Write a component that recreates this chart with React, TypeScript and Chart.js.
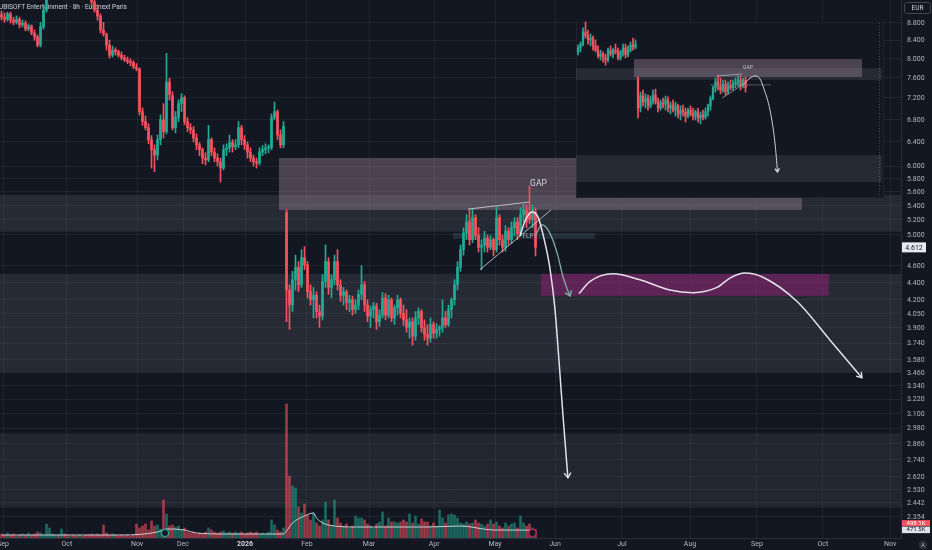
import React, { useEffect, useRef } from "react";
import { Chart, registerables } from "chart.js";

Chart.register(...registerables);

// ---------------- data ----------------
const chartTitle = "UBISOFT Entertainment · 8h · Euronext Paris";
const lastPriceText = "4.612";
const lastVolumeText = "498.1K";
const volumeMaText = "471.5K";
const volumeMaValue = 471.5;

// candles [open, high, low, close] in EUR, one per 8h slot
const sepOctCandles = [
  [8.99, 9.08, 8.86, 8.93], [8.93, 9.03, 8.81, 8.88], [8.88, 9.05, 8.84, 9.01], [9.01, 9.05, 8.79, 8.86],
  [8.86, 8.93, 8.75, 8.81], [8.81, 8.96, 8.77, 8.88], [8.88, 8.93, 8.68, 8.75], [8.75, 8.86, 8.7, 8.79],
  [8.79, 8.84, 8.61, 8.65], [8.65, 8.77, 8.61, 8.72], [8.72, 8.75, 8.52, 8.56], [8.56, 8.63, 8.4, 8.47],
  [8.47, 8.52, 8.25, 8.29], [8.29, 8.81, 8.25, 8.7], [8.7, 9.23, 8.65, 9.1], [9.1, 9.73, 9.05, 9.6],
];
const octNovCandles = [
  [9.6, 9.95, 9.55, 9.85], [9.85, 10.2, 9.8, 10.1], [10.1, 10.35, 10.0, 10.25], [10.25, 10.4, 10.05, 10.15],
  [10.15, 10.5, 10.1, 10.4], [10.4, 10.45, 10.2, 10.3], [10.3, 10.35, 10.0, 10.05], [10.05, 10.25, 9.95, 10.2],
  [10.2, 10.3, 9.95, 10.0], [10.0, 10.1, 9.8, 9.9], [9.9, 10.15, 9.85, 10.05], [10.05, 10.1, 9.8, 9.85],
  [9.85, 9.95, 9.65, 9.7], [9.7, 9.8, 9.55, 9.6],
];
const novJanCandles = [
  [9.6, 9.73, 9.23, 9.3], [9.3, 9.35, 9.05, 9.1], [9.1, 9.23, 8.86, 8.96], [8.96, 9.01, 8.56, 8.63],
  [8.63, 8.81, 8.49, 8.54], [8.54, 8.56, 8.18, 8.29], [8.29, 8.4, 8.01, 8.07], [8.07, 8.27, 8.03, 8.18],
  [8.18, 8.23, 8.07, 8.14], [8.14, 8.18, 8.03, 8.07], [8.07, 8.14, 7.97, 8.01], [8.01, 8.07, 7.93, 7.97],
  [7.97, 8.03, 7.89, 7.93], [7.93, 7.99, 7.84, 7.91], [7.91, 7.95, 7.78, 7.82], [7.82, 7.89, 7.74, 7.78],
  [7.78, 7.8, 6.88, 6.94], [6.94, 7.01, 6.69, 6.76], [6.76, 6.86, 6.61, 6.65], [6.65, 6.72, 6.37, 6.44],
  [6.44, 6.51, 5.97, 6.27], [6.27, 6.35, 5.91, 6.18], [6.18, 6.52, 6.1, 6.44], [6.44, 6.88, 6.35, 6.79],
  [6.79, 7.09, 6.47, 6.58], [6.58, 8.11, 6.54, 7.51], [7.51, 7.59, 7.16, 7.26], [7.24, 7.32, 6.61, 6.65],
  [6.65, 6.94, 6.56, 6.83], [6.83, 7.16, 6.76, 7.09], [7.09, 7.28, 6.94, 7.2], [7.2, 7.24, 6.7, 6.76],
  [6.76, 6.83, 6.58, 6.65], [6.65, 6.72, 6.54, 6.61], [6.61, 6.67, 6.4, 6.47], [6.47, 6.54, 6.27, 6.35],
  [6.35, 6.39, 6.17, 6.27], [6.27, 6.3, 6.04, 6.13], [6.13, 6.22, 6.02, 6.1], [6.1, 6.69, 6.07, 6.44],
  [6.44, 6.47, 6.17, 6.23], [6.23, 6.3, 6.07, 6.13], [6.13, 6.2, 6.0, 6.07], [6.07, 6.13, 5.75, 5.97],
  [5.97, 6.35, 5.94, 6.27], [6.27, 6.37, 6.17, 6.3], [6.3, 6.52, 6.23, 6.39], [6.39, 6.44, 6.23, 6.32],
  [6.32, 6.44, 6.27, 6.35], [6.35, 6.76, 6.3, 6.65], [6.65, 6.69, 6.35, 6.44], [6.44, 6.51, 6.27, 6.35],
  [6.35, 6.4, 6.13, 6.23], [6.23, 6.3, 6.07, 6.13], [6.13, 6.18, 6.0, 6.07], [6.07, 6.13, 5.97, 6.05],
  [6.05, 6.3, 6.02, 6.23], [6.23, 6.34, 6.17, 6.27], [6.27, 6.37, 6.2, 6.3], [6.3, 6.35, 6.22, 6.3],
  [6.3, 6.9, 6.27, 6.83], [6.83, 7.12, 6.79, 6.94], [6.94, 6.97, 6.44, 6.52], [6.52, 6.61, 6.3, 6.35],
  [6.35, 6.76, 6.3, 6.67],
];
const febAprCandles = [
  [5.3, 5.34, 3.96, 4.31], [4.31, 4.37, 3.88, 4.14], [4.14, 4.53, 4.07, 4.43], [4.43, 4.73, 4.31, 4.58],
  [4.58, 4.65, 4.29, 4.37], [4.37, 4.8, 4.34, 4.7], [4.7, 4.84, 4.55, 4.61], [4.61, 4.65, 4.22, 4.29],
  [4.29, 4.37, 4.14, 4.2], [4.2, 4.34, 4.0, 4.25], [4.25, 4.29, 4.0, 4.07], [4.07, 4.14, 3.9, 4.02],
  [4.02, 4.49, 3.98, 4.41], [4.41, 4.86, 4.34, 4.65], [4.65, 4.7, 4.26, 4.34], [4.34, 4.49, 4.22, 4.43],
  [4.43, 4.73, 4.37, 4.65], [4.65, 4.8, 4.31, 4.37], [4.37, 4.43, 4.18, 4.25], [4.25, 4.34, 4.14, 4.29],
  [4.29, 4.31, 4.09, 4.17], [4.17, 4.25, 4.07, 4.2], [4.2, 4.24, 4.03, 4.09], [4.09, 4.2, 4.05, 4.14],
  [4.14, 4.31, 4.09, 4.26], [4.26, 4.6, 4.2, 4.37], [4.37, 4.41, 4.07, 4.14], [4.14, 4.2, 3.96, 4.02],
  [4.02, 4.13, 3.9, 4.09], [4.09, 4.17, 4.0, 4.13], [4.13, 4.16, 3.88, 3.96], [3.96, 4.09, 3.91, 4.03],
  [4.03, 4.28, 4.0, 4.22], [4.22, 4.27, 3.98, 4.03], [4.03, 4.25, 4.0, 4.2], [4.2, 4.22, 3.96, 4.0],
  [4.0, 4.14, 3.93, 4.11], [4.11, 4.25, 4.03, 4.2], [4.2, 4.22, 4.0, 4.05], [4.05, 4.14, 3.92, 3.98],
  [3.98, 4.09, 3.85, 3.9], [3.9, 4.0, 3.79, 3.96], [3.96, 4.0, 3.72, 3.81], [3.81, 4.07, 3.77, 4.0],
  [4.0, 4.11, 3.93, 4.07], [4.07, 4.09, 3.85, 3.9], [3.9, 3.98, 3.77, 3.83], [3.83, 3.93, 3.72, 3.79],
  [3.79, 4.0, 3.75, 3.93], [3.93, 3.96, 3.79, 3.84], [3.84, 3.94, 3.79, 3.88], [3.88, 3.92, 3.81, 3.9],
  [3.9, 4.2, 3.85, 4.0], [4.0, 4.07, 3.9, 3.93], [3.93, 4.14, 3.91, 4.09], [4.09, 4.22, 4.0, 4.2],
  [4.2, 4.43, 4.14, 4.37],
];
const aprMayCandles = [
  [4.37, 4.65, 4.31, 4.58], [4.58, 4.86, 4.53, 4.8], [4.8, 5.09, 4.73, 5.02], [5.02, 5.27, 4.93, 5.17],
  [5.17, 5.34, 4.86, 4.93], [4.93, 5.36, 4.89, 5.23], [5.23, 5.27, 4.93, 4.99], [4.99, 5.09, 4.77, 4.83],
  [4.83, 4.93, 4.55, 4.86], [4.86, 5.04, 4.77, 4.95], [4.95, 4.99, 4.77, 4.83], [4.83, 4.98, 4.8, 4.93],
  [4.93, 4.95, 4.72, 4.8], [4.8, 5.38, 4.77, 5.23], [5.23, 5.27, 4.86, 4.93], [4.93, 4.99, 4.77, 4.83],
  [4.83, 5.12, 4.78, 5.04], [5.04, 5.09, 4.86, 4.93], [4.93, 5.17, 4.88, 5.09], [5.09, 5.23, 4.98, 5.17],
  [5.17, 5.23, 4.93, 5.01], [5.01, 5.37, 4.98, 5.27], [5.27, 5.42, 5.17, 5.34], [5.34, 5.41, 5.09, 5.17],
  [5.31, 5.69, 5.15, 5.2], [5.2, 5.41, 5.09, 5.34], [5.31, 5.37, 4.72, 4.83],
];

// volume in thousands of shares, one per slot
const volSepNov = [
  240, 180, 300, 180, 240, 120, 180, 240, 180, 300, 180, 240, 360, 300, 180,
  840, 600, 240, 180, 180, 540, 240, 180, 120, 180, 120, 180, 120, 180, 180,
  240, 180, 240, 180, 780, 300, 180, 240, 180, 120, 180, 120, 180, 120, 180,
];
const volNovJan = [
  840, 600, 720, 840, 480, 1020, 720, 780, 540, 2280, 1440, 720, 780, 660, 720,
  480, 600, 360, 300, 360, 240, 300, 240, 360, 600, 480, 360, 300, 360, 420,
  300, 360, 300, 360, 300, 360, 240, 300, 360, 300, 360, 240, 300, 240, 360,
  1080, 780, 480, 360, 600,
];
const volFebApr = [
  8040,
  3720, 3120, 3000, 1860, 1500, 2040, 1380, 1080, 1500, 900, 720, 1080, 2160, 1080, 720,
  2280, 1200, 900, 720, 840, 600, 720, 1320, 1200, 1200, 1080, 840, 720, 600, 840,
  960, 1560, 720, 1200, 960, 960, 900, 960, 1080, 960, 1440, 900, 1320, 840, 1140,
  960, 960, 720, 900, 720, 1680, 1200, 900, 1380, 1440, 1380,
];
const volAprMay = [
  1200, 900, 840, 960, 840, 900, 1080, 900, 840, 720, 840, 1080, 840, 960, 720,
  600, 900, 720, 840, 900, 600, 1320, 900, 720, 840, 600, 498,
];
// volume moving average [slot, thousands]
const volumeMA = [
  [0, 180], [40, 180], [52, 360], [55, 540], [61, 480], [65, 300], [75, 240], [94, 240], [95, 420],
  [97, 900], [101, 1320], [104, 1500], [105, 1200], [106, 1020], [109, 780], [118, 660], [142, 660],
  [153, 720], [164, 480], [178, 471.5],
];
const earningsMarks = [[54.5, 300], [177, 300]];

// axis ticks
const yTicks = [8.8, 8.4, 8.0, 7.6, 7.2, 6.8, 6.4, 6.0, 5.8, 5.6, 5.4, 5.2, 5.0, 4.6, 4.4, 4.2, 4.05, 3.9,
  3.74, 3.58, 3.46, 3.34, 3.22, 3.1, 2.98, 2.86, 2.74, 2.62, 2.53, 2.442, 2.354];
const monthTicks = [0.5, 21.8, 45.2, 60.5, 81.2, 101.8, 122.5, 144.2, 164.5, 184.5, 206.8, 229.5, 251.8, 273.8, 296.2];
const monthLabels = ["Sep", "Oct", "Nov", "Dec", "2026", "Feb", "Mar", "Apr", "May", "Jun", "Jul", "Aug", "Sep", "Oct", "Nov"];

// zones [lowPrice, highPrice, fromSlot?, toSlot?]
const upperBandZone = [5.035, 5.556];
const rangeBandZone = [3.46, 4.5];
const lowerBandZone = [2.41, 2.94];
const gapZone = [5.338, 6.133, 92.5, 266.8];
const targetZone = [4.244, 4.5, 179.8, 275.8];
const flpZone = [4.94, 5.02, 150.5, 197.8];

// drawings [slot, price]
const triangleTop = [[155.5, 5.35], [175.8, 5.45]];
const triangleBottom = [[159.5, 4.55], [183.2, 5.34]];
const arrowDrop = [[172.8, 4.98], [174.8, 5.21], [176.8, 5.31], [178.8, 5.24], [180.8, 4.95], [182.8, 4.57],
  [184.5, 4.09], [185.8, 3.58], [187.2, 3.07], [188.8, 2.61]];
const arrowGap = [[177.8, 4.97], [180.2, 5.13], [182.2, 5.06], [185.2, 4.76], [187.2, 4.46], [189.5, 4.24]];
const arrowRange = [[192.5, 4.27], [196.2, 4.41], [203.8, 4.5], [212.8, 4.43], [222.8, 4.31], [230.5, 4.28],
  [238.5, 4.34], [242.8, 4.45], [247.8, 4.51], [253.8, 4.46], [265.2, 4.18], [276.2, 3.77], [286.8, 3.41]];
const gapLabelAt = [176.2, 5.72];
const flpLabelAt = [175.5, 4.97];

// inset (zoomed-out copy), candles [open, high, low, close] in inset units
const insetPreGap = [
  [6.17, 6.4, 6.07, 6.3], [6.3, 6.5, 6.17, 6.43], [6.43, 6.97, 6.37, 6.83], [6.83, 7.17, 6.63, 6.7],
  [6.7, 6.9, 6.43, 6.57], [6.57, 6.77, 6.37, 6.63], [6.63, 6.7, 6.23, 6.37], [6.37, 6.57, 6.17, 6.23],
  [6.23, 6.37, 5.97, 6.03], [6.03, 6.23, 5.9, 6.1], [6.1, 6.17, 5.83, 5.97], [5.97, 6.1, 5.73, 5.9],
  [5.9, 6.3, 5.83, 6.23], [6.23, 6.37, 6.03, 6.1], [6.1, 6.3, 5.97, 6.23], [6.23, 6.43, 6.1, 6.17],
  [6.17, 6.3, 5.9, 5.97], [5.97, 6.23, 5.9, 6.17], [6.17, 6.43, 6.03, 6.3], [6.3, 6.43, 5.97, 6.07],
  [6.07, 6.37, 6.0, 6.23], [6.23, 6.5, 6.17, 6.4], [6.4, 6.63, 6.23, 6.33], [6.33, 6.57, 6.27, 6.43],
];
const insetPostGap = [
  [5.3, 5.33, 3.97, 4.3], [4.3, 4.83, 4.17, 4.7], [4.7, 4.9, 4.37, 4.5], [4.5, 4.77, 4.3, 4.63],
  [4.63, 4.73, 4.23, 4.37], [4.37, 4.7, 4.3, 4.57], [4.57, 4.9, 4.43, 4.73], [4.73, 4.93, 4.43, 4.5],
  [4.5, 4.63, 4.17, 4.3], [4.3, 4.57, 4.23, 4.47], [4.47, 4.63, 4.3, 4.43], [4.43, 4.7, 4.23, 4.57],
  [4.57, 4.67, 4.17, 4.3], [4.3, 4.5, 4.1, 4.4], [4.4, 4.57, 4.17, 4.23], [4.23, 4.5, 4.03, 4.37],
  [4.37, 4.43, 3.97, 4.1], [4.1, 4.37, 3.9, 4.23], [4.23, 4.4, 4.03, 4.17], [4.17, 4.3, 3.83, 4.03],
  [4.03, 4.3, 3.97, 4.23], [4.23, 4.37, 4.03, 4.1], [4.1, 4.3, 3.9, 4.03], [4.03, 4.23, 3.9, 4.17],
  [4.17, 4.3, 3.83, 3.97], [3.97, 4.17, 3.77, 4.07], [4.07, 4.23, 3.9, 4.0], [4.0, 4.3, 3.93, 4.17],
  [4.17, 4.43, 4.03, 4.37], [4.37, 4.7, 4.23, 4.63], [4.63, 5.03, 4.57, 4.97], [4.97, 5.3, 4.83, 5.17],
  [5.17, 5.37, 4.9, 5.03], [5.03, 5.3, 4.77, 4.9], [4.9, 5.23, 4.83, 5.1], [5.1, 5.23, 4.73, 4.83],
  [4.83, 5.17, 4.77, 5.03], [5.03, 5.23, 4.9, 4.97], [4.97, 5.23, 4.9, 5.1], [5.1, 5.3, 4.97, 5.17],
  [5.17, 5.37, 5.03, 5.23], [5.23, 5.37, 4.9, 5.03], [5.03, 5.3, 4.97, 5.23], [5.23, 5.33, 4.83, 4.97],
];
// inset zones [low, high, fromSlot, toSlot]
const insetFrame = [1.3, 7.17, -0.8, 122.4];
const insetBandZone = [5.23, 5.63, -0.8, 121.6];
const insetLowBandZone = [1.83, 2.73, -0.8, 121.6];
const insetGapZone = [5.33, 5.93, 22.4, 113.6];
const insetTriangleTop = [[55.6, 5.37], [65.6, 5.43]];
const insetTriangleBottom = [[57.6, 4.63], [66.8, 5.13]];
const insetFlp = [[52.8, 5.07], [77.2, 5.07]];
const insetArrow = [[66.8, 5.13], [68.8, 5.3], [70.8, 5.37], [72.8, 5.27], [74.4, 4.93], [76.8, 4.23], [78.8, 3.13], [79.8, 2.17]];
const insetGapLabelAt = [68, 5.63];
const insetMarkerSlot = 120.4;

// ---------------- styles ----------------
const FONT = "Roboto, 'Liberation Sans', Arial, sans-serif";
const BG = "#131722";
const UP = "#22ab94";
const DOWN = "#f7525f";
const UP_VOL = "rgba(34,171,148,0.55)";
const DOWN_VOL = "rgba(247,82,95,0.6)";
const GRID = "rgba(60,64,76,0.32)";
const AXIS_TEXT = "#b2b5be";
const BAND = "rgba(134,137,148,0.17)";
const BAND_LOW = "rgba(134,137,148,0.13)";
const MAUVE = "rgba(160,135,155,0.40)";
const PURPLE = "rgba(150,30,120,0.5)";
const FLP = "rgba(70,100,110,0.3)";
const WHITE = "rgba(236,236,242,0.95)";
const TEAL = "#7fae9f";

export default function App() {
  const ref = useRef<HTMLCanvasElement>(null);

  useEffect(() => {
    document.body.style.margin = "0";
    document.body.style.background = BG;
    const canvas = ref.current;
    if (!canvas) return;

    const candles = [...sepOctCandles, ...octNovCandles, ...novJanCandles, ...febAprCandles, ...aprMayCandles];
    const volumes = [...volSepNov, ...volNovJan, ...volFebApr, ...volAprMay];
    const inset = [...insetPreGap, ...insetPostGap];
    const isUp = (c: number[]) => c[3] >= c[0];
    const pts = (arr: number[][]) => arr.map((p) => ({ x: p[0], y: p[1] }));

    const line = (label: string, arr: number[][], color: string, width: number, order: number, xId = "x", yId = "y") => ({
      type: "line",
      label,
      data: pts(arr),
      borderColor: color,
      borderWidth: width,
      pointRadius: 0,
      cubicInterpolationMode: "monotone",
      fill: false,
      xAxisID: xId,
      yAxisID: yId,
      order,
    });

    const datasets: any[] = [
      {
        type: "bar", label: "volume",
        data: volumes.map((v, i) => ({ x: i, y: v })),
        backgroundColor: candles.map((c) => (isUp(c) ? UP_VOL : DOWN_VOL)),
        barThickness: 2, grouped: false, xAxisID: "x", yAxisID: "yv", order: 30,
      },
      { ...line("volumeMA", volumeMA, "rgba(215,217,225,0.9)", 1, 29, "x", "yv") },
      {
        type: "line", label: "earnings", data: pts(earningsMarks), showLine: false,
        pointRadius: 3.5, pointBackgroundColor: BG, pointBorderColor: [UP, "#c2185b"], pointBorderWidth: 1.2,
        xAxisID: "x", yAxisID: "yv", order: 28.5,
      },
      {
        type: "bar", label: "wicks",
        data: candles.map((c, i) => ({ x: i, y: [c[2], c[1]] })),
        backgroundColor: candles.map((c) => (isUp(c) ? UP : DOWN)),
        barThickness: 1, grouped: false, xAxisID: "x", yAxisID: "y", order: 28,
      },
      {
        type: "bar", label: "bodies",
        data: candles.map((c, i) => ({ x: i, y: [c[0], c[3]] })),
        backgroundColor: candles.map((c) => (isUp(c) ? UP : DOWN)),
        barThickness: 2, minBarLength: 1, grouped: false, xAxisID: "x", yAxisID: "y", order: 27,
      },
      line("triangleTop", triangleTop, "rgba(210,212,222,0.8)", 1, 26),
      line("triangleBottom", triangleBottom, "rgba(210,212,222,0.8)", 1, 25),
      line("arrowRange", arrowRange, WHITE, 1.5, 24),
      line("arrowGap", arrowGap, TEAL, 1.3, 23),
      line("arrowDrop", arrowDrop, WHITE, 1.5, 22),
      {
        type: "bar", label: "insetWicks",
        data: inset.map((c, i) => ({ x: i, y: [c[2], c[1]] })),
        backgroundColor: inset.map((c) => (isUp(c) ? UP : DOWN)),
        barThickness: 1, grouped: false, xAxisID: "xi", yAxisID: "yi", order: 6,
      },
      {
        type: "bar", label: "insetBodies",
        data: inset.map((c, i) => ({ x: i, y: [c[0], c[3]] })),
        backgroundColor: inset.map((c) => (isUp(c) ? UP : DOWN)),
        barThickness: 1.6, minBarLength: 1, grouped: false, xAxisID: "xi", yAxisID: "yi", order: 5,
      },
      line("insetFlp", insetFlp, "rgba(110,120,132,0.7)", 1, 4, "xi", "yi"),
      line("insetTriangleTop", insetTriangleTop, "rgba(200,202,212,0.75)", 0.8, 3, "xi", "yi"),
      line("insetTriangleBottom", insetTriangleBottom, "rgba(200,202,212,0.75)", 0.8, 3, "xi", "yi"),
      line("insetArrow", insetArrow, "rgba(225,225,232,0.9)", 1, 2, "xi", "yi"),
    ];

    const arrowHeads: [string, string, number][] = [
      ["arrowDrop", WHITE, 6], ["arrowGap", TEAL, 6], ["arrowRange", WHITE, 6], ["insetArrow", "rgba(225,225,232,0.9)", 4],
    ];

    const drawPlugin = {
      id: "tvDraw",
      beforeDraw(chart: any) {
        const { ctx, width, height } = chart;
        ctx.save();
        ctx.fillStyle = BG;
        ctx.fillRect(0, 0, width, height);
        ctx.restore();
      },
      beforeDatasetsDraw(chart: any) {
        const { ctx, chartArea: a, scales } = chart;
        const x = scales.x, y = scales.y;
        ctx.save();
        ctx.beginPath();
        ctx.rect(a.left, a.top, a.right - a.left, a.bottom - a.top);
        ctx.clip();
        const zone = (z: number[], color: string) => {
          const top = y.getPixelForValue(z[1]);
          const bot = y.getPixelForValue(z[0]);
          const l = z.length > 2 ? x.getPixelForValue(z[2]) : a.left;
          const r = z.length > 3 ? x.getPixelForValue(z[3]) : a.right;
          ctx.fillStyle = color;
          ctx.fillRect(l, top, r - l, bot - top);
        };
        zone(upperBandZone, BAND);
        zone(rangeBandZone, BAND);
        zone(lowerBandZone, BAND_LOW);
        zone(gapZone, MAUVE);
        zone(targetZone, PURPLE);
        zone(flpZone, FLP);
        // title
        ctx.font = `10px ${FONT}`;
        const w = ctx.measureText(chartTitle).width;
        const size = (10 * 128) / w;
        ctx.font = `${size.toFixed(2)}px ${FONT}`;
        ctx.fillStyle = "#d1d4dc";
        ctx.textAlign = "left";
        ctx.textBaseline = "middle";
        ctx.fillText(chartTitle, -1, 7);
        ctx.restore();
      },
      beforeDatasetDraw(chart: any, args: any) {
        const ds = chart.data.datasets[args.index];
        if (!ds || ds.label !== "insetWicks") return;
        const { ctx, chartArea: a, scales } = chart;
        const xi = scales.xi, yi = scales.yi;
        ctx.save();
        ctx.beginPath();
        ctx.rect(a.left, a.top, a.right - a.left, a.bottom - a.top);
        ctx.clip();
        const rect = (z: number[], color: string) => {
          const l = xi.getPixelForValue(z[2]);
          const r = xi.getPixelForValue(z[3]);
          const t = yi.getPixelForValue(z[1]);
          const b = yi.getPixelForValue(z[0]);
          ctx.fillStyle = color;
          ctx.fillRect(l, t, r - l, b - t);
          return [l, t, r, b];
        };
        const f = rect(insetFrame, BG);
        ctx.strokeStyle = "rgba(120,123,134,0.12)";
        ctx.lineWidth = 1;
        ctx.strokeRect(f[0] + 0.5, f[1] + 0.5, f[2] - f[0] - 1, f[3] - f[1] - 1);
        rect(insetBandZone, BAND);
        rect(insetLowBandZone, BAND);
        rect(insetGapZone, MAUVE);
        // dotted marker line
        const mx = Math.round(xi.getPixelForValue(insetMarkerSlot)) + 0.5;
        ctx.strokeStyle = "rgba(150,152,160,0.45)";
        ctx.setLineDash([1, 2]);
        ctx.beginPath();
        ctx.moveTo(mx, f[1] + 1);
        ctx.lineTo(mx, f[3] - 1);
        ctx.stroke();
        ctx.setLineDash([]);
        ctx.restore();
      },
      afterDatasetsDraw(chart: any) {
        const { ctx, chartArea: a, scales } = chart;
        ctx.save();
        ctx.beginPath();
        ctx.rect(a.left, a.top, a.right - a.left, a.bottom - a.top);
        ctx.clip();
        // arrow heads
        chart.data.datasets.forEach((ds: any, i: number) => {
          const h = arrowHeads.find((e) => e[0] === ds.label);
          if (!h) return;
          const els = chart.getDatasetMeta(i).data;
          const p1 = els[els.length - 2], p2 = els[els.length - 1];
          const ang = Math.atan2(p2.y - p1.y, p2.x - p1.x);
          const len = h[2];
          ctx.strokeStyle = h[1];
          ctx.lineWidth = 1.4;
          ctx.beginPath();
          ctx.moveTo(p2.x - len * Math.cos(ang - 0.6), p2.y - len * Math.sin(ang - 0.6));
          ctx.lineTo(p2.x, p2.y);
          ctx.lineTo(p2.x - len * Math.cos(ang + 0.6), p2.y - len * Math.sin(ang + 0.6));
          ctx.stroke();
        });
        // labels
        ctx.textBaseline = "middle";
        ctx.textAlign = "left";
        ctx.fillStyle = "#d1d4dc";
        ctx.font = `8.5px ${FONT}`;
        ctx.fillText("GAP", scales.x.getPixelForValue(gapLabelAt[0]), scales.y.getPixelForValue(gapLabelAt[1]));
        ctx.textAlign = "center";
        ctx.fillStyle = "rgba(170,173,182,0.9)";
        ctx.font = `6.5px ${FONT}`;
        ctx.fillText("FLP", scales.x.getPixelForValue(flpLabelAt[0]), scales.y.getPixelForValue(flpLabelAt[1]));
        ctx.fillStyle = "#c0c3cc";
        ctx.font = `5px ${FONT}`;
        ctx.fillText("GAP", scales.xi.getPixelForValue(insetGapLabelAt[0]), scales.yi.getPixelForValue(insetGapLabelAt[1]));
        ctx.restore();
      },
      afterDraw(chart: any) {
        const { ctx, chartArea: a, scales } = chart;
        const axL = a.right + 1;
        ctx.save();
        // time axis labels
        ctx.textBaseline = "middle";
        ctx.textAlign = "center";
        monthTicks.forEach((v, i) => {
          const bold = monthLabels[i] === "2026";
          ctx.font = `${bold ? "bold " : ""}7px ${FONT}`;
          ctx.fillStyle = bold ? "#d1d4dc" : AXIS_TEXT;
          ctx.fillText(monthLabels[i], scales.x.getPixelForValue(v), a.bottom + 6.5);
        });
        // price axis labels
        ctx.textAlign = "left";
        ctx.font = `7px ${FONT}`;
        ctx.fillStyle = AXIS_TEXT;
        yTicks.forEach((v) => {
          ctx.fillText(v.toFixed(3), axL + 5, scales.y.getPixelForValue(v) + 0.5);
        });
        ctx.textAlign = "center";
        // last price label
        const last = aprMayCandles[aprMayCandles.length - 1];
        const py = scales.y.getPixelForValue(last[3]);
        ctx.fillStyle = "#e8eaef";
        ctx.fillRect(axL, py - 5, 24, 10);
        ctx.fillStyle = "#131722";
        ctx.font = `7px ${FONT}`;
        ctx.fillText(lastPriceText, axL + 12, py + 0.5);
        // volume labels
        const vy = scales.yv.getPixelForValue(volumeMaValue);
        ctx.font = `6px ${FONT}`;
        ctx.fillStyle = "#f7525f";
        ctx.fillRect(axL, vy - 10, 28, 6);
        ctx.fillStyle = "#ffffff";
        ctx.fillText(lastVolumeText, axL + 14, vy - 7);
        ctx.fillStyle = "#e0e3eb";
        ctx.fillRect(axL, vy - 3.5, 28, 6.5);
        ctx.fillStyle = "#131722";
        ctx.fillText(volumeMaText, axL + 14, vy - 0.2);
        // currency box
        ctx.strokeStyle = "#434651";
        ctx.lineWidth = 1;
        ctx.beginPath();
        if ((ctx as any).roundRect) (ctx as any).roundRect(axL + 2.5, 2.5, 26, 11, 2);
        else ctx.rect(axL + 2.5, 2.5, 26, 11);
        ctx.stroke();
        ctx.fillStyle = "#d1d4dc";
        ctx.font = `6.5px ${FONT}`;
        ctx.fillText("EUR", axL + 15.5, 8.3);
        // auto-scale button
        ctx.fillStyle = "#2a2e39";
        ctx.beginPath();
        ctx.arc(axL + 21, 545, 4.5, 0, Math.PI * 2);
        ctx.fill();
        ctx.fillStyle = AXIS_TEXT;
        ctx.font = `5.5px ${FONT}`;
        ctx.fillText("A", axL + 21, 545.3);
        ctx.restore();
      },
    };

    const chart = new Chart(canvas, {
      type: "bar",
      data: { datasets },
      options: {
        animation: false,
        responsive: true,
        maintainAspectRatio: false,
        events: [],
        layout: { padding: 0, autoPadding: false },
        plugins: { legend: { display: false }, tooltip: { enabled: false }, title: { display: false } },
        scales: {
          x: {
            type: "linear", position: "bottom", min: -0.5, max: 299.83, bounds: "data", offset: false,
            grid: { color: GRID, drawTicks: false, offset: false },
            border: { display: true, color: "#2a2e39" },
            ticks: { display: false, autoSkip: false, maxRotation: 0, minRotation: 0 },
            afterBuildTicks: (s: any) => { s.ticks = monthTicks.map((v) => ({ value: v })); },
            afterFit: (s: any) => { s.height = 12; s.paddingLeft = 0; s.paddingRight = 0; },
          },
          y: {
            type: "logarithmic", position: "right", min: 2.2227, max: 9.35, bounds: "data",
            grid: { color: GRID, drawTicks: false },
            border: { display: true, color: "#2a2e39" },
            ticks: { display: false, autoSkip: false },
            afterBuildTicks: (s: any) => { s.ticks = yTicks.map((v) => ({ value: v })); },
            afterFit: (s: any) => { s.width = 31; s.paddingTop = 0; s.paddingBottom = 0; },
          },
          yv: { type: "linear", display: false, min: 0, max: 32280, bounds: "data" },
          xi: { type: "linear", display: false, min: -231.2, max: 129.2, bounds: "data", offset: false, grid: { offset: false } },
          yi: { type: "linear", display: false, min: -10.033, max: 7.9, bounds: "data" },
        },
      } as any,
      plugins: [drawPlugin],
    } as any);

    return () => chart.destroy();
  }, []);

  return (
    <div style={{ position: "fixed", left: 0, top: 0, width: 932, height: 550, background: BG }}>
      <canvas ref={ref} style={{ display: "block" }} />
    </div>
  );
}
